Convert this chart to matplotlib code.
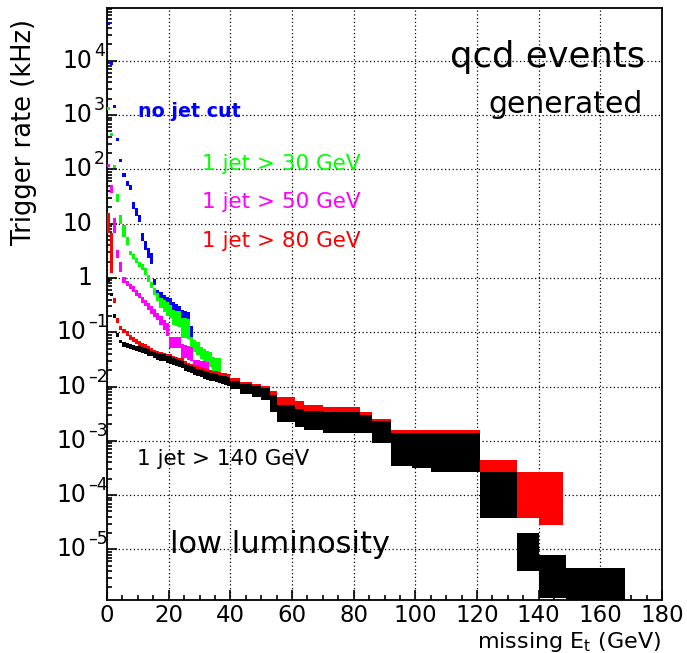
import numpy as np
import matplotlib
matplotlib.use("Agg")
import matplotlib.pyplot as plt
import matplotlib.transforms as mtrans
from matplotlib.ticker import FixedLocator, LogLocator, NullFormatter, MultipleLocator

# ---------------- data (trigger rate in kHz vs missing Et cut in GeV) -------------
# 1 GeV bins starting at 0
blue_rate = [4.8e4, 9.1e3, 1.43e3, 3.6e2, 1.45e2, 79, 56, 46, 22, 16.6, 12.6, 5.75, 4.07,
             2.9, 2.34, 0.85, 0.52, 0.47, 0.42, 0.38, 0.355, 0.30, 0.275, 0.25, 0.21, 0.20,
             0.19, 0.10]
blue_err = [3e3, 6e2, 1e2, 25, 10, 7, 6, 5, 3, 2.5, 2, 1, 0.8, 0.6, 0.5, 0.1, 0.08, 0.08,
            0.07, 0.07, 0.065, 0.06, 0.06, 0.055, 0.045, 0.045, 0.045, 0.03]

green_rate = [1.32e3, 447, 112, 30, 12, 7.6, 4.8, 2.95, 2.5, 2.1, 1.78, 1.58, 1.32, 1.0,
              0.74, 0.56, 0.45, 0.355, 0.316, 0.28, 0.25, 0.196, 0.19, 0.185, 0.13, 0.13,
              0.125, 0.066, 0.058, 0.052, 0.043, 0.04, 0.036, 0.033, 0.027, 0.026, 0.025]
green_err = [80, 30, 8, 5, 2.2, 2, 0.8, 0.25, 0.25, 0.25, 0.2, 0.2, 0.18, 0.15, 0.1, 0.08,
             0.07, 0.08, 0.08, 0.08, 0.07, 0.06, 0.06, 0.06, 0.05, 0.05, 0.05, 0.016, 0.015,
             0.014, 0.011, 0.01, 0.01, 0.01, 0.008, 0.008, 0.008]

magenta_rate = [120, 44, 9.7, 2.8, 1.6, 0.92, 0.79, 0.71, 0.63, 0.54, 0.48, 0.40, 0.35,
                0.30, 0.26, 0.23, 0.20, 0.166, 0.138, 0.117, 0.066, 0.066, 0.066, 0.066,
                0.048, 0.046, 0.044, 0.042, 0.025, 0.025, 0.024, 0.023, 0.022]
magenta_err = [8, 7, 2.9, 0.5, 0.33, 0.12, 0.08, 0.08, 0.07, 0.07, 0.06, 0.05, 0.05, 0.04,
               0.04, 0.035, 0.03, 0.03, 0.03, 0.03, 0.015, 0.015, 0.015, 0.015, 0.014,
               0.013, 0.013, 0.012, 0.006, 0.006, 0.006, 0.006, 0.006]

red_rate = [11.3, 4.0, 0.39, 0.165, 0.12, 0.105, 0.095, 0.08, 0.074, 0.068, 0.062, 0.058,
            0.055, 0.05, 0.047, 0.043, 0.04, 0.038, 0.037, 0.035, 0.034, 0.032, 0.031, 0.03,
            0.029, 0.026, 0.024, 0.023, 0.022, 0.021, 0.02, 0.019, 0.0178, 0.0172, 0.0166,
            0.016, 0.0155, 0.015, 0.0145, 0.014]
red_err = [4.5, 2.75, 0.04, 0.017, 0.012, 0.01, 0.01, 0.008, 0.007, 0.007, 0.006, 0.006,
           0.006, 0.006, 0.005, 0.005, 0.005, 0.005, 0.005, 0.005, 0.005, 0.004, 0.004,
           0.004, 0.004, 0.003, 0.003, 0.003, 0.003, 0.003, 0.003, 0.003, 0.003, 0.003,
           0.003, 0.003, 0.003, 0.003, 0.003, 0.003]

black_rate = [0.92, 0.5, 0.2, 0.089, 0.068, 0.06, 0.058, 0.055, 0.053, 0.051, 0.049, 0.047,
              0.045, 0.043, 0.041, 0.038, 0.036, 0.035, 0.034, 0.032, 0.031, 0.029, 0.028,
              0.027, 0.026, 0.023, 0.0215, 0.0205, 0.0195, 0.0185, 0.0175, 0.0165, 0.016,
              0.0155, 0.015, 0.0145, 0.014, 0.0135, 0.013, 0.0125]
black_err = [0.07, 0.04, 0.02, 0.008, 0.005, 0.006, 0.006, 0.006, 0.006, 0.006, 0.006,
             0.006, 0.006, 0.006, 0.005, 0.005, 0.005, 0.005, 0.005, 0.005, 0.005, 0.004,
             0.004, 0.004, 0.004, 0.0035, 0.003, 0.003, 0.003, 0.003, 0.0028, 0.0028,
             0.0026, 0.0026, 0.0025, 0.0025, 0.0025, 0.0024, 0.0024, 0.0023]

# wider plateaus beyond 40 GeV (edges in GeV)
red_seg_edges = [40, 43, 47, 50, 53, 55, 61, 64, 70, 82, 86, 92, 121, 133, 140, 148]
red_seg_rate = [0.0115, 0.0098, 0.0091, 0.0083, 0.0062, 0.0048, 0.004, 0.0034, 0.0031,
                0.0025, 0.0018, 0.0011, 2.8e-4, 1.54e-4, 1.49e-4]
red_seg_err = [0.0026, 0.0022, 0.0021, 0.0019, 0.0021, 0.0017, 0.0014, 0.0012, 0.0011,
               0.0009, 0.0007, 0.00048, 1.7e-4, 1.16e-4, 1.21e-4]

black_seg_edges = [40, 43, 47, 50, 53, 55, 61, 64, 70, 82, 86, 92, 99, 105, 121, 133, 140,
                   149, 168]
black_seg_rate = [0.0107, 0.0093, 0.0083, 0.0075, 0.0052, 0.0034, 0.0028, 0.00256, 0.0024,
                  0.0022, 0.0016, 0.00088, 0.00086, 0.00084, 1.54e-4, 1.2e-5, 4.6e-6,
                  2.5e-6]
black_seg_err = [0.0018, 0.0019, 0.0019, 0.0019, 0.0018, 0.0012, 0.001, 0.001, 0.001,
                 0.0008, 0.0007, 0.00053, 0.00055, 0.00057, 1.16e-4, 8e-6, 3.3e-6, 2.1e-6]

# y tick labels: (value, base, exponent)
ytick_vals = [1e-5, 1e-4, 1e-3, 1e-2, 1e-1, 1, 10, 1e2, 1e3, 1e4]
ytick_base = ["10", "10", "10", "10", "10", "1", "10", "10", "10", "10"]
ytick_exp = ["\u20135", "\u20134", "\u20133", "\u20132", "\u20131", "", "", "2", "3", "4"]
xtick_vals = [0, 20, 40, 60, 80, 100, 120, 140, 160, 180]

# ---------------- figure ----------------
W, H = 687, 653
plt.rcParams['font.family'] = ['DejaVu Sans']
plt.rcParams['mathtext.fontset'] = 'dejavusans'
fig = plt.figure(figsize=(W / 100, H / 100), dpi=100)
ax = fig.add_axes([107 / W, 1 - 600 / H, (662 - 107) / W, (600 - 8) / H])


def draw_boxes(edges, rate, err, color, z):
    edges = np.asarray(edges, float)
    rate = np.asarray(rate, float)
    err = np.asarray(err, float)
    ax.bar(edges[:-1], 2 * err, width=np.diff(edges), bottom=rate - err, align='edge',
           color=color, linewidth=0, zorder=z)


def unit_edges(vals):
    return np.arange(len(vals) + 1)


draw_boxes(unit_edges(blue_rate), blue_rate, blue_err, (0, 0, 1), 2)
draw_boxes(unit_edges(green_rate), green_rate, green_err, (0, 1, 0), 3)
draw_boxes(unit_edges(magenta_rate), magenta_rate, magenta_err, (1, 0, 1), 4)
draw_boxes(unit_edges(red_rate), red_rate, red_err, (1, 0, 0), 5)
draw_boxes(red_seg_edges, red_seg_rate, red_seg_err, (1, 0, 0), 5)
draw_boxes(unit_edges(black_rate), black_rate, black_err, (0, 0, 0), 6)
draw_boxes(black_seg_edges, black_seg_rate, black_seg_err, (0, 0, 0), 6)

ax.set_yscale('log')
ax.set_xlim(0, 180)
ax.set_ylim(1.17e-6, 9.4e4)

ax.xaxis.set_major_locator(FixedLocator(xtick_vals))
ax.xaxis.set_minor_locator(MultipleLocator(5))
ax.set_xticklabels([str(v) for v in xtick_vals])
ax.yaxis.set_major_locator(FixedLocator(ytick_vals))
ax.set_yticklabels([])
ax.yaxis.set_minor_locator(LogLocator(base=10, subs=np.arange(2, 10), numticks=30))
ax.yaxis.set_minor_formatter(NullFormatter())

ax.tick_params(which='both', direction='in', top=False, right=False, width=1.2,
               colors='black')
ax.tick_params(axis='x', labelsize=16.5, pad=3)
ax.tick_params(which='major', length=7.5)
ax.tick_params(which='minor', length=3.6)

ax.grid(True, which='major', linestyle=(0, (1, 2)), color='black', linewidth=0.9)
ax.set_axisbelow(True)
for s in ax.spines.values():
    s.set_linewidth(1.3)

# manual y tick labels (ROOT style: base + raised exponent)
ytrans = mtrans.blended_transform_factory(fig.transFigure, ax.transData)
exp_trans = mtrans.offset_copy(ytrans, fig=fig, x=0, y=10, units='dots')
for v, b, e in zip(ytick_vals, ytick_base, ytick_exp):
    if e == "":
        ax.text(92 / W, v, b, transform=ytrans, ha='right', va='center', fontsize=17)
    elif e.startswith("\u2013"):
        ax.text(86 / W, v, b, transform=ytrans, ha='right', va='center', fontsize=17)
        ax.text(88 / W, v, e, transform=exp_trans, ha='left', va='center', fontsize=12.5)
    else:
        ax.text(92 / W, v, b, transform=ytrans, ha='right', va='center', fontsize=17)
        ax.text(94 / W, v, e, transform=exp_trans, ha='left', va='center', fontsize=12.5)


def ftext(x, y, s, **kw):
    fig.text(x / W, 1 - y / H, s, **kw)


ftext(24, 132, "Trigger rate (kHz)", rotation=90, ha='center', va='center', fontsize=18.5)
ftext(661, 648, r"missing E$_{\rm t}$ (GeV)", ha='right', va='baseline', fontsize=16)

ftext(645, 67, "qcd events", ha='right', va='baseline', fontsize=25.5)
ftext(643, 113, "generated", ha='right', va='baseline', fontsize=21.5)
ftext(138, 117, "no jet cut", ha='left', va='baseline', fontsize=13.7, color=(0, 0, 1),
      fontweight='bold')
ftext(202, 170, "1 jet > 30 GeV", ha='left', va='baseline', fontsize=15.5, color=(0, 1, 0))
ftext(202, 208, "1 jet > 50 GeV", ha='left', va='baseline', fontsize=15.5, color=(1, 0, 1))
ftext(202, 247, "1 jet > 80 GeV", ha='left', va='baseline', fontsize=15.5, color=(1, 0, 0))
ftext(137, 465, "1 jet > 140 GeV", ha='left', va='baseline', fontsize=15.5, color='black')
ftext(170, 553, "low luminosity", ha='left', va='baseline', fontsize=22, color='black')

fig.savefig("out.png", dpi=100)
